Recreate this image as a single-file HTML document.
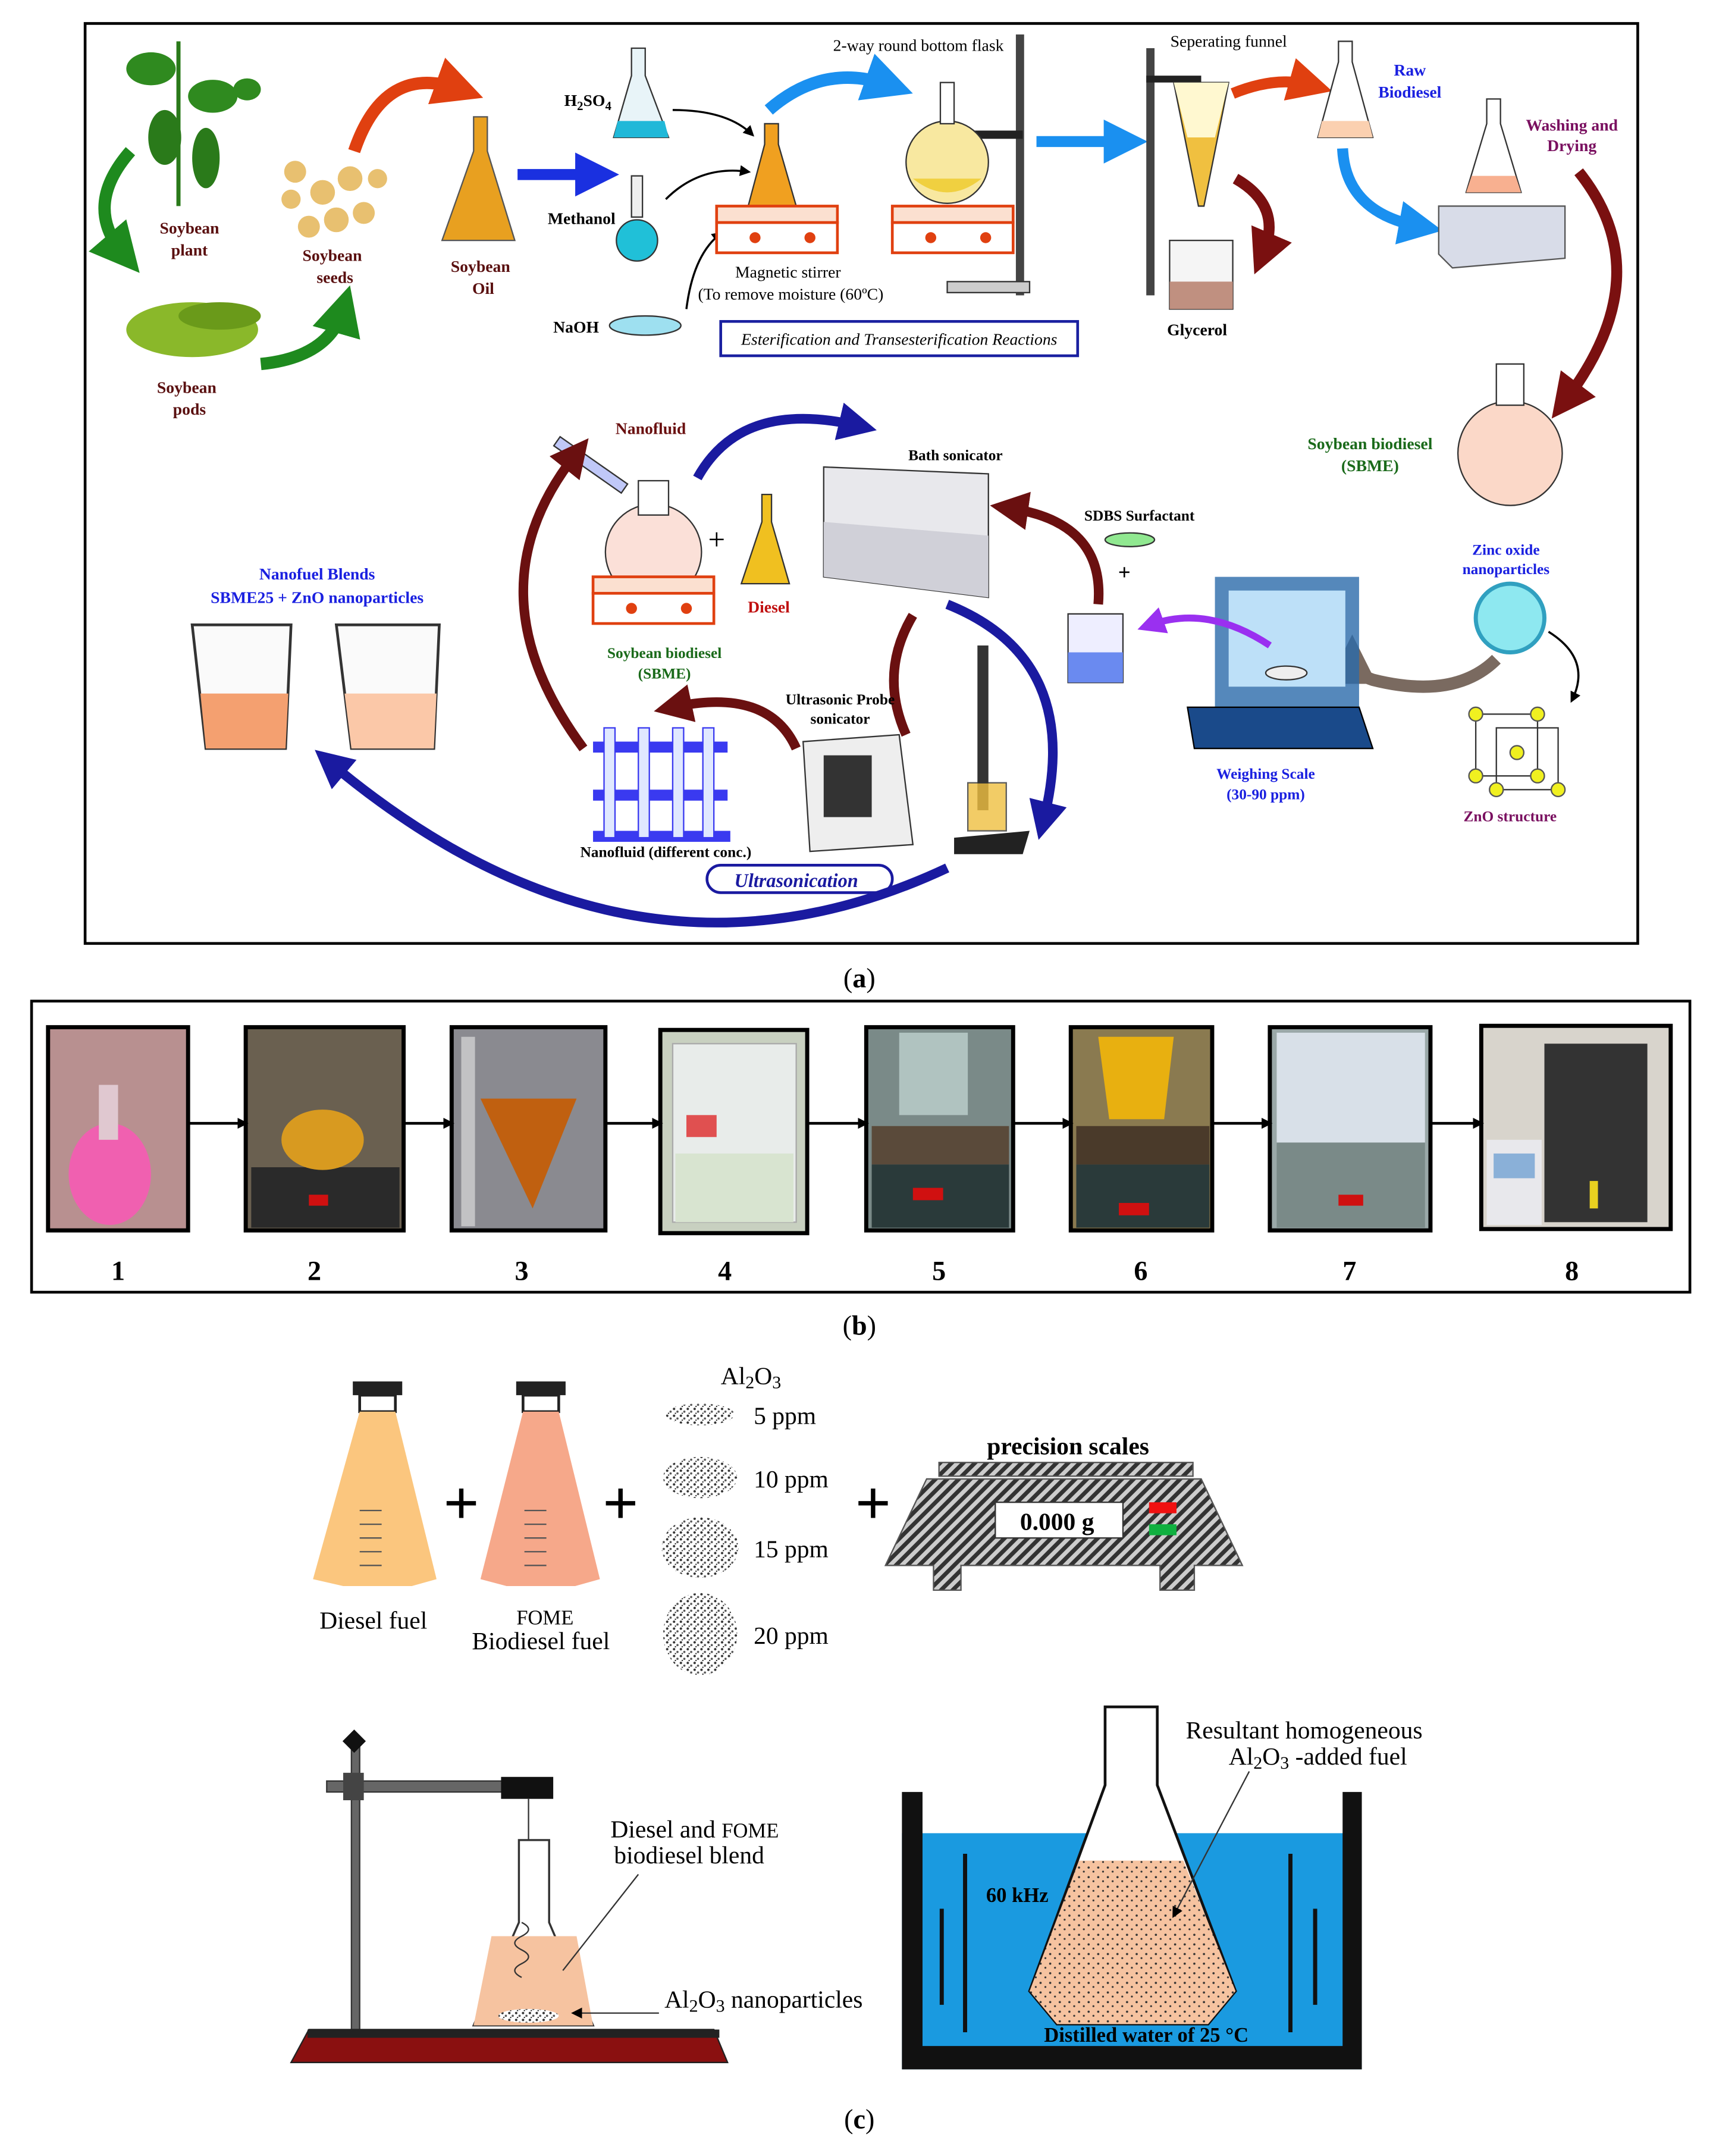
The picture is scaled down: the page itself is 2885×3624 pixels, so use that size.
<!DOCTYPE html>
<html><head><meta charset="utf-8"><style>
html,body{margin:0;padding:0;background:#fff;}
svg{display:block;}
text{font-family:"Liberation Serif",serif;}
</style></head><body>
<svg width="2885" height="3624" viewBox="0 0 1250 1570" xmlns="http://www.w3.org/2000/svg">
<defs>
<marker id="ab" markerWidth="4" markerHeight="4" refX="2" refY="2" orient="auto"><path d="M0,0L4,2L0,4z" fill="context-stroke"/></marker>
<marker id="ak" markerWidth="8" markerHeight="8" refX="6" refY="4" orient="auto" markerUnits="userSpaceOnUse"><path d="M0,0L8,4L0,8z" fill="#000"/></marker>
<pattern id="hatch" width="6" height="6" patternUnits="userSpaceOnUse" patternTransform="rotate(45)"><rect width="6" height="6" fill="#ccc"/><rect width="3" height="6" fill="#333"/></pattern>
<pattern id="dots" width="7" height="7" patternUnits="userSpaceOnUse"><rect width="7" height="7" fill="#f6c3a0"/><circle cx="2" cy="2" r="0.8" fill="#333"/><circle cx="5.5" cy="5" r="0.7" fill="#333"/></pattern>
<pattern id="speck" width="5" height="5" patternUnits="userSpaceOnUse"><rect width="5" height="5" fill="#fff"/><circle cx="1" cy="1" r="0.9" fill="#333"/><circle cx="3.5" cy="3" r="0.8" fill="#555"/><circle cx="2" cy="4.2" r="0.5" fill="#222"/></pattern>
</defs>
<rect width="1250" height="1570" fill="#fff"/>

<!-- PANEL A -->
<rect x="62" y="17" width="1131" height="670" fill="none" stroke="#000" stroke-width="2"/>
<g font-weight="bold" font-size="12">
<path d="M130,30 L130,150" stroke="#2a7a1a" stroke-width="3"/>
<ellipse cx="110" cy="50" rx="18" ry="12" fill="#2f8a1f"/><ellipse cx="155" cy="70" rx="18" ry="12" fill="#2f8a1f"/><ellipse cx="120" cy="100" rx="12" ry="20" fill="#2a7a1a"/><ellipse cx="150" cy="115" rx="10" ry="22" fill="#2a7a1a"/><ellipse cx="180" cy="65" rx="10" ry="8" fill="#2f8a1f"/>
<text x="138" y="170" fill="#5a1010" text-anchor="middle">Soybean</text><text x="138" y="186" fill="#5a1010" text-anchor="middle">plant</text>
<path d="M95,110 Q60,150 90,185" stroke="#1e8a1e" stroke-width="9" fill="none" marker-end="url(#ab)"/>
<ellipse cx="140" cy="240" rx="48" ry="20" fill="#8ab82a"/><ellipse cx="160" cy="230" rx="30" ry="10" fill="#6a9a1a"/>
<text x="136" y="286" fill="#5a1010" text-anchor="middle">Soybean</text><text x="138" y="302" fill="#5a1010" text-anchor="middle">pods</text>
<path d="M190,265 Q240,260 250,225" stroke="#1e8a1e" stroke-width="9" fill="none" marker-end="url(#ab)"/>
<g fill="#e8c070"><circle cx="215" cy="125" r="8"/><circle cx="235" cy="140" r="9"/><circle cx="255" cy="130" r="9"/><circle cx="245" cy="160" r="9"/><circle cx="265" cy="155" r="8"/><circle cx="225" cy="165" r="8"/><circle cx="212" cy="145" r="7"/><circle cx="275" cy="130" r="7"/></g>
<text x="242" y="190" fill="#5a1010" text-anchor="middle">Soybean</text><text x="244" y="206" fill="#5a1010" text-anchor="middle">seeds</text>
<path d="M258,110 Q280,45 335,65" stroke="#e04010" stroke-width="9" fill="none" marker-end="url(#ab)"/>
<path d="M345,85 L345,110 L322,175 L375,175 L355,110 L355,85z" fill="#e8a020" stroke="#555"/>
<text x="350" y="198" fill="#5a1010" text-anchor="middle">Soybean</text><text x="352" y="214" fill="#5a1010" text-anchor="middle">Oil</text>
<path d="M377,127 L435,127" stroke="#1a30e0" stroke-width="8" marker-end="url(#ab)"/>
<path d="M460,35 L460,55 L447,100 L487,100 L470,55 L470,35z" fill="#e8f4f8" stroke="#333"/><path d="M450,88 L484,88 L487,100 L447,100z" fill="#20b8d8"/>
<text x="411" y="77" fill="#000">H<tspan font-size="9" dy="3">2</tspan><tspan dy="-3">SO</tspan><tspan font-size="9" dy="3">4</tspan></text>
<path d="M490,80 Q530,80 548,98" stroke="#000" stroke-width="1.5" fill="none" marker-end="url(#ak)"/>
<rect x="460" y="128" width="8" height="30" fill="#eee" stroke="#333"/><circle cx="464" cy="175" r="15" fill="#20c0d8" stroke="#333"/>
<text x="399" y="163" fill="#000">Methanol</text>
<path d="M485,145 Q510,120 545,125" stroke="#000" stroke-width="1.5" fill="none" marker-end="url(#ak)"/>
<ellipse cx="470" cy="237" rx="26" ry="7" fill="#9ee0f0" stroke="#333"/>
<text x="403" y="242" fill="#000">NaOH</text>
<path d="M500,225 Q505,185 525,170" stroke="#000" stroke-width="1.5" fill="none" marker-end="url(#ak)"/>
<path d="M557,90 L557,105 L545,150 L580,150 L567,105 L567,90z" fill="#f0a020" stroke="#333"/>
<rect x="522" y="150" width="88" height="12" fill="#fbe0d0" stroke="#e04010" stroke-width="2"/><rect x="522" y="162" width="88" height="22" fill="#fff" stroke="#e04010" stroke-width="2"/>
<circle cx="550" cy="173" r="4" fill="#e04010"/><circle cx="590" cy="173" r="4" fill="#e04010"/>
<text x="574" y="202" fill="#000" text-anchor="middle" font-weight="normal">Magnetic stirrer</text>
<text x="576" y="218" fill="#000" text-anchor="middle" font-weight="normal">(To remove moisture (60ºC)</text>
<rect x="525" y="234" width="260" height="25" fill="#fff" stroke="#1a20a0" stroke-width="2"/>
<text x="655" y="251" fill="#000" text-anchor="middle" font-style="italic" font-weight="normal">Esterification and Transesterification Reactions</text>
<path d="M560,80 Q600,45 648,62" stroke="#1a90f0" stroke-width="9" fill="none" marker-end="url(#ab)"/>
<text x="669" y="37" fill="#000" text-anchor="middle" font-weight="normal">2-way round bottom flask</text>
<rect x="740" y="25" width="6" height="190" fill="#444"/><rect x="700" y="95" width="45" height="6" fill="#222"/>
<circle cx="690" cy="118" r="30" fill="#f8e8a0" stroke="#333"/><path d="M665,130 Q690,150 715,130" fill="#f0d040"/>
<rect x="685" y="60" width="10" height="30" fill="#fff" stroke="#333"/>
<rect x="650" y="150" width="88" height="12" fill="#fbe0d0" stroke="#e04010" stroke-width="2"/><rect x="650" y="162" width="88" height="22" fill="#fff" stroke="#e04010" stroke-width="2"/>
<circle cx="678" cy="173" r="4" fill="#e04010"/><circle cx="718" cy="173" r="4" fill="#e04010"/>
<rect x="690" y="205" width="60" height="8" fill="#ccc" stroke="#333"/>
<path d="M755,103 L820,103" stroke="#1a90f0" stroke-width="8" marker-end="url(#ab)"/>
<text x="895" y="34" fill="#000" text-anchor="middle" font-weight="normal">Seperating funnel</text>
<rect x="835" y="35" width="6" height="180" fill="#444"/><rect x="835" y="55" width="40" height="5" fill="#222"/>
<path d="M855,60 L895,60 L877,150 L873,150z" fill="#f0c040" stroke="#333"/><path d="M855,60 L895,60 L885,100 L865,100z" fill="#fff8d0"/>
<rect x="852" y="175" width="46" height="50" fill="#f5f5f5" stroke="#333"/><rect x="852" y="205" width="46" height="20" fill="#c09080"/>
<text x="872" y="244" fill="#000" text-anchor="middle">Glycerol</text>
<path d="M898,68 Q930,55 955,62" stroke="#e04010" stroke-width="8" fill="none" marker-end="url(#ab)"/>
<path d="M900,130 Q935,150 920,185" stroke="#7a1010" stroke-width="8" fill="none" marker-end="url(#ab)"/>
<path d="M975,30 L975,45 L960,100 L1000,100 L985,45 L985,30z" fill="#fff" stroke="#333"/><path d="M963,88 L997,88 L1000,100 L960,100z" fill="#fbd0b0"/>
<text x="1027" y="55" fill="#1a20e0" text-anchor="middle">Raw</text><text x="1027" y="71" fill="#1a20e0" text-anchor="middle">Biodiesel</text>
<path d="M978,108 Q980,155 1035,165" stroke="#1a90f0" stroke-width="8" fill="none" marker-end="url(#ab)"/>
<path d="M1083,72 L1083,90 L1068,140 L1108,140 L1093,90 L1093,72z" fill="#fff" stroke="#333"/><path d="M1072,128 L1104,128 L1108,140 L1068,140z" fill="#f8b090"/>
<path d="M1048,150 L1140,150 L1140,188 L1058,195 L1048,185z" fill="#d8dce8" stroke="#555"/>
<text x="1145" y="95" fill="#7a1060" text-anchor="middle">Washing and</text><text x="1145" y="110" fill="#7a1060" text-anchor="middle">Drying</text>
<path d="M1150,125 Q1210,200 1140,292" stroke="#7a1010" stroke-width="8" fill="none" marker-end="url(#ab)"/>
<circle cx="1100" cy="330" r="38" fill="#fbd8c8" stroke="#333"/><rect x="1090" y="265" width="20" height="30" fill="#fff" stroke="#333"/>
<text x="998" y="327" fill="#1a6a1a" text-anchor="middle">Soybean biodiesel</text><text x="998" y="343" fill="#1a6a1a" text-anchor="middle">(SBME)</text>
<text x="1097" y="404" fill="#1a20e0" text-anchor="middle" font-size="11">Zinc oxide</text><text x="1097" y="418" fill="#1a20e0" text-anchor="middle" font-size="11">nanoparticles</text>
<circle cx="1100" cy="450" r="25" fill="#8ee8f0" stroke="#30a0c0" stroke-width="3"/>
<path d="M1128,460 Q1160,480 1145,510" stroke="#000" stroke-width="1.5" fill="none" marker-end="url(#ak)"/>
<g stroke="#333" fill="none"><rect x="1075" y="520" width="45" height="45"/><rect x="1090" y="530" width="45" height="45"/></g>
<g fill="#f0f020" stroke="#555"><circle cx="1075" cy="520" r="5"/><circle cx="1120" cy="520" r="5"/><circle cx="1075" cy="565" r="5"/><circle cx="1120" cy="565" r="5"/><circle cx="1135" cy="575" r="5"/><circle cx="1090" cy="575" r="5"/><circle cx="1105" cy="548" r="5"/></g>
<text x="1100" y="598" fill="#7a1060" text-anchor="middle" font-size="11">ZnO structure</text>
<path d="M1090,480 Q1060,510 1000,495 Q985,490 985,480" stroke="#7a6a60" stroke-width="9" fill="none" marker-end="url(#ab)"/>
<path d="M885,420 L990,420 L990,520 L885,520z" fill="#2a6aaa" opacity="0.8"/><rect x="895" y="430" width="85" height="70" fill="#bde0f8"/>
<path d="M865,515 L990,515 L1000,545 L870,545z" fill="#1a4a8a" stroke="#000"/><ellipse cx="937" cy="490" rx="15" ry="5" fill="#eee" stroke="#333"/>
<text x="922" y="567" fill="#1a20e0" text-anchor="middle" font-size="11">Weighing Scale</text><text x="922" y="582" fill="#1a20e0" text-anchor="middle" font-size="11">(30-90 ppm)</text>
<path d="M925,470 Q880,440 838,455" stroke="#9a30f0" stroke-width="5" fill="none" marker-end="url(#ab)"/>
<rect x="778" y="447" width="40" height="50" fill="#eef" stroke="#333"/><rect x="778" y="475" width="40" height="22" fill="#6a8af0"/>
<text x="830" y="379" fill="#000" text-anchor="middle" font-size="11">SDBS Surfactant</text>
<ellipse cx="823" cy="393" rx="18" ry="5" fill="#90e890" stroke="#333"/>
<text x="819" y="422" fill="#000" text-anchor="middle" font-size="16">+</text>
<path d="M800,440 Q805,380 735,370" stroke="#6a1010" stroke-width="7" fill="none" marker-end="url(#ab)"/>
<text x="696" y="335" fill="#000" text-anchor="middle" font-size="11">Bath sonicator</text>
<path d="M600,340 L720,345 L720,435 L600,420z" fill="#e8e8ec" stroke="#333"/><path d="M600,380 L720,390 L720,435 L600,420z" fill="#d0d0d8"/>
<path d="M508,348 Q540,290 625,310" stroke="#1a1aa0" stroke-width="7" fill="none" marker-end="url(#ab)"/>
<text x="474" y="316" fill="#6a1010" text-anchor="middle">Nanofluid</text>
<rect x="408" y="318" width="60" height="8" transform="rotate(35 408 318)" fill="#c0c8f8" stroke="#333"/>
<circle cx="476" cy="402" r="35" fill="#fbe0d8" stroke="#333"/><rect x="465" y="350" width="22" height="25" fill="#fff" stroke="#333"/>
<rect x="432" y="420" width="88" height="12" fill="#fbe0d0" stroke="#e04010" stroke-width="2"/><rect x="432" y="432" width="88" height="22" fill="#fff" stroke="#e04010" stroke-width="2"/>
<circle cx="460" cy="443" r="4" fill="#e04010"/><circle cx="500" cy="443" r="4" fill="#e04010"/>
<text x="522" y="400" fill="#000" text-anchor="middle" font-size="22" font-weight="normal">+</text>
<path d="M555,360 L555,380 L540,425 L575,425 L562,380 L562,360z" fill="#f0c020" stroke="#333"/>
<text x="560" y="446" fill="#c01010" text-anchor="middle">Diesel</text>
<text x="484" y="479" fill="#1a6a1a" text-anchor="middle" font-size="11">Soybean biodiesel</text><text x="484" y="494" fill="#1a6a1a" text-anchor="middle" font-size="11">(SBME)</text>
<path d="M690,440 Q790,480 760,598" stroke="#1a1aa0" stroke-width="7" fill="none" marker-end="url(#ab)"/>
<path d="M665,448 Q640,490 660,535" stroke="#6a1010" stroke-width="7" fill="none"/>
<text x="612" y="513" fill="#000" text-anchor="middle" font-size="11">Ultrasonic Probe</text><text x="612" y="527" fill="#000" text-anchor="middle" font-size="11">sonicator</text>
<path d="M585,540 L655,535 L665,615 L590,620z" fill="#eee" stroke="#333"/><rect x="600" y="550" width="35" height="45" fill="#333"/>
<rect x="712" y="470" width="8" height="120" fill="#333"/><rect x="705" y="570" width="28" height="35" fill="#f0c040" stroke="#333" opacity="0.8"/>
<path d="M695,610 L750,605 L745,622 L695,622z" fill="#222"/>
<path d="M580,545 Q560,500 490,515" stroke="#6a1010" stroke-width="7" fill="none" marker-end="url(#ab)"/>
<g fill="#3a3af0"><rect x="432" y="540" width="98" height="8"/><rect x="432" y="575" width="98" height="8"/><rect x="432" y="605" width="100" height="8"/>
<rect x="440" y="530" width="8" height="80" fill="#e0e8ff" stroke="#3a3af0"/><rect x="465" y="530" width="8" height="80" fill="#e0e8ff" stroke="#3a3af0"/><rect x="490" y="530" width="8" height="80" fill="#e0e8ff" stroke="#3a3af0"/><rect x="512" y="530" width="8" height="80" fill="#e0e8ff" stroke="#3a3af0"/></g>
<text x="485" y="624" fill="#000" text-anchor="middle" font-size="11">Nanofluid (different conc.)</text>
<rect x="515" y="630" width="135" height="20" rx="10" fill="#fff" stroke="#1a1aa0" stroke-width="2"/>
<text x="580" y="646" fill="#1a1aa0" text-anchor="middle" font-style="italic" font-size="14">Ultrasonication</text>
<path d="M425,545 Q340,430 420,330" stroke="#6a1010" stroke-width="7" fill="none" marker-end="url(#ab)"/>
<path d="M690,632 Q460,740 240,555" stroke="#1a1aa0" stroke-width="7" fill="none" marker-end="url(#ab)"/>
<text x="231" y="422" fill="#1a20e0" text-anchor="middle">Nanofuel Blends</text><text x="231" y="439" fill="#1a20e0" text-anchor="middle">SBME25 + ZnO nanoparticles</text>
<path d="M140,455 L212,455 L208,545 L150,545z" fill="#fafafa" stroke="#333" stroke-width="2"/><path d="M146,505 L210,505 L208,545 L150,545z" fill="#f4a070"/>
<path d="M245,455 L320,455 L316,545 L256,545z" fill="#fafafa" stroke="#333" stroke-width="2"/><path d="M251,505 L318,505 L316,545 L256,545z" fill="#fbc8a8"/>
</g>
<text x="626" y="719" font-size="20" text-anchor="middle">(<tspan font-weight="bold">a</tspan>)</text>

<!-- PANEL B -->
<rect x="23" y="729" width="1208" height="212" fill="none" stroke="#000" stroke-width="2"/>
<g stroke="#000" stroke-width="3">
<rect x="35" y="748" width="102" height="148" fill="#b89090"/><rect x="179" y="748" width="115" height="148" fill="#6a6050"/><rect x="329" y="748" width="112" height="148" fill="#8a8a90"/><rect x="481" y="750" width="107" height="148" fill="#c8d0c0"/><rect x="631" y="748" width="107" height="148" fill="#7a8a88"/><rect x="780" y="748" width="103" height="148" fill="#8a7a50"/><rect x="925" y="748" width="117" height="148" fill="#9aa8a8"/><rect x="1079" y="747" width="138" height="148" fill="#d8d4cc"/>
</g>
<ellipse cx="80" cy="855" rx="30" ry="37" fill="#f060b0"/><rect x="72" y="790" width="14" height="40" fill="#e0c8d0"/>
<rect x="183" y="850" width="108" height="44" fill="#2a2a2a"/><ellipse cx="235" cy="830" rx="30" ry="22" fill="#d89a20"/><rect x="225" y="870" width="14" height="8" fill="#d01010"/>
<path d="M350,800 L420,800 L388,880z" fill="#c06010"/><rect x="336" y="755" width="10" height="138" fill="#e8e8e8" opacity="0.6"/>
<rect x="490" y="760" width="90" height="130" fill="#e8ecea" stroke="#aaa"/><rect x="492" y="840" width="86" height="50" fill="#d8e4d0"/><rect x="500" y="812" width="22" height="16" fill="#e05050"/>
<rect x="635" y="820" width="100" height="28" fill="#5a4a3a"/><rect x="635" y="848" width="100" height="46" fill="#2a3a3a"/><rect x="665" y="865" width="22" height="9" fill="#d01010"/><rect x="655" y="752" width="50" height="60" fill="#c8dcd8" opacity="0.7"/>
<rect x="784" y="820" width="97" height="28" fill="#4a3a2a"/><rect x="784" y="848" width="97" height="46" fill="#2a3a3a"/><rect x="815" y="876" width="22" height="9" fill="#d01010"/><path d="M800,755 L855,755 L848,815 L808,815z" fill="#e8b010"/>
<rect x="930" y="752" width="108" height="80" fill="#d8e0e8"/><rect x="930" y="832" width="108" height="62" fill="#7a8a88"/><rect x="975" y="870" width="18" height="8" fill="#d01010"/>
<rect x="1125" y="760" width="75" height="130" fill="#333"/><rect x="1083" y="830" width="40" height="62" fill="#e8e8ec"/><rect x="1088" y="840" width="30" height="18" fill="#8ab0d8"/><rect x="1158" y="860" width="6" height="20" fill="#e8d020"/>
<g stroke="#000" stroke-width="2" marker-end="url(#ak)"><line x1="137" y1="818" x2="179" y2="818"/><line x1="294" y1="818" x2="329" y2="818"/><line x1="441" y1="818" x2="481" y2="818"/><line x1="588" y1="818" x2="631" y2="818"/><line x1="738" y1="818" x2="780" y2="818"/><line x1="883" y1="818" x2="925" y2="818"/><line x1="1042" y1="818" x2="1079" y2="818"/></g>
<g font-size="20" font-weight="bold" text-anchor="middle"><text x="86" y="932">1</text><text x="229" y="932">2</text><text x="380" y="932">3</text><text x="528" y="932">4</text><text x="684" y="932">5</text><text x="831" y="932">6</text><text x="983" y="932">7</text><text x="1145" y="932">8</text></g>
<text x="626" y="972" font-size="20" text-anchor="middle">(<tspan font-weight="bold">b</tspan>)</text>

<!-- PANEL C -->
<g font-size="18">
<rect x="257" y="1006" width="36" height="10" fill="#222"/><rect x="262" y="1016" width="26" height="12" fill="#fff" stroke="#222" stroke-width="2"/>
<path d="M262,1028 L288,1028 L318,1150 L300,1155 L250,1155 L228,1150z" fill="#fbc67e"/>
<g stroke="#555"><line x1="262" y1="1100" x2="278" y2="1100"/><line x1="262" y1="1110" x2="278" y2="1110"/><line x1="262" y1="1120" x2="278" y2="1120"/><line x1="262" y1="1130" x2="278" y2="1130"/><line x1="262" y1="1140" x2="278" y2="1140"/></g>
<text x="272" y="1186" text-anchor="middle">Diesel fuel</text>
<text x="336" y="1110" font-size="46" font-weight="bold" text-anchor="middle">+</text>
<rect x="376" y="1006" width="36" height="10" fill="#222"/><rect x="381" y="1016" width="26" height="12" fill="#fff" stroke="#222" stroke-width="2"/>
<path d="M381,1028 L407,1028 L437,1150 L419,1155 L369,1155 L350,1150z" fill="#f6a88a"/>
<g stroke="#555"><line x1="382" y1="1100" x2="398" y2="1100"/><line x1="382" y1="1110" x2="398" y2="1110"/><line x1="382" y1="1120" x2="398" y2="1120"/><line x1="382" y1="1130" x2="398" y2="1130"/><line x1="382" y1="1140" x2="398" y2="1140"/></g>
<text x="397" y="1183" font-size="15" text-anchor="middle">FOME</text><text x="394" y="1201" text-anchor="middle">Biodiesel fuel</text>
<text x="452" y="1110" font-size="46" font-weight="bold" text-anchor="middle">+</text>
<text x="547" y="1008" text-anchor="middle">Al<tspan font-size="13" dy="3">2</tspan><tspan dy="-3">O</tspan><tspan font-size="13" dy="3">3</tspan></text>
<g fill="url(#speck)"><ellipse cx="510" cy="1030" rx="25" ry="8"/><ellipse cx="510" cy="1076" rx="27" ry="15"/><ellipse cx="510" cy="1127" rx="28" ry="22"/><ellipse cx="510" cy="1190" rx="27" ry="30"/></g>
<text x="549" y="1037">5 ppm</text><text x="549" y="1083">10 ppm</text><text x="549" y="1134">15 ppm</text><text x="549" y="1197">20 ppm</text>
<text x="636" y="1110" font-size="46" font-weight="bold" text-anchor="middle">+</text>
<text x="778" y="1059" text-anchor="middle" font-weight="bold">precision scales</text>
<rect x="684" y="1065" width="185" height="10" fill="url(#hatch)" stroke="#555"/>
<path d="M675,1077 L875,1077 L905,1140 L870,1140 L870,1158 L845,1158 L845,1140 L700,1140 L700,1158 L680,1158 L680,1140 L645,1140z" fill="url(#hatch)" stroke="#555"/>
<rect x="725" y="1094" width="93" height="26" fill="#fff" stroke="#333"/><text x="770" y="1114" text-anchor="middle" font-weight="bold">0.000 g</text>
<rect x="837" y="1094" width="20" height="8" fill="#f01010"/><rect x="837" y="1110" width="20" height="8" fill="#10b040"/>
<rect x="256" y="1272" width="6" height="210" fill="#666" stroke="#333"/><rect x="252" y="1262" width="12" height="12" fill="#111" transform="rotate(45 258 1268)"/>
<rect x="238" y="1297" width="130" height="8" fill="#666" stroke="#333"/><rect x="250" y="1291" width="15" height="20" fill="#444"/>
<rect x="365" y="1294" width="38" height="16" fill="#111"/><line x1="385" y1="1310" x2="385" y2="1430" stroke="#333"/>
<path d="M378,1340 L400,1340 L400,1400 L432,1475 L345,1475 L378,1400z" fill="#fff" stroke="#333" stroke-width="1.5"/>
<path d="M358,1410 L420,1410 L432,1475 L345,1475z" fill="#f6c3a0"/>
<ellipse cx="385" cy="1468" rx="22" ry="5" fill="url(#speck)"/>
<path d="M380,1400 q10,5 0,10 q-10,5 0,10 q10,5 0,10 q-10,5 0,10" stroke="#333" fill="none"/>
<path d="M225,1478 L520,1478 L530,1502 L212,1502z" fill="#8a1010" stroke="#222"/>
<rect x="224" y="1478" width="300" height="6" fill="#222"/>
<text x="506" y="1338" text-anchor="middle">Diesel and <tspan font-size="15">FOME</tspan></text><text x="502" y="1357" text-anchor="middle">biodiesel blend</text>
<line x1="465" y1="1365" x2="410" y2="1435" stroke="#333"/>
<text x="484" y="1462">Al<tspan font-size="13" dy="3">2</tspan><tspan dy="-3">O</tspan><tspan font-size="13" dy="3">3</tspan><tspan dy="-3"> nanoparticles</tspan></text>
<line x1="480" y1="1466" x2="418" y2="1466" stroke="#333" marker-end="url(#ak)"/>
<rect x="657" y="1335" width="335" height="172" fill="#1a9ae0"/>
<path d="M657,1305 L672,1305 L672,1490 L978,1490 L978,1305 L992,1305 L992,1507 L657,1507z" fill="#111"/>
<g stroke="#111" stroke-width="3"><line x1="686" y1="1390" x2="686" y2="1460"/><line x1="703" y1="1350" x2="703" y2="1480"/><line x1="940" y1="1350" x2="940" y2="1480"/><line x1="958" y1="1390" x2="958" y2="1460"/></g>
<path d="M805,1243 L843,1243 L843,1300 L900,1450 L880,1474 L770,1474 L750,1450 L805,1300z" fill="#fff" stroke="#111" stroke-width="2"/>
<path d="M786,1355 L862,1355 L900,1450 L880,1474 L770,1474 L750,1450z" fill="url(#dots)"/>
<text x="741" y="1385" font-weight="bold" font-size="15" text-anchor="middle">60 kHz</text>
<text x="835" y="1487" font-weight="bold" font-size="15" text-anchor="middle">Distilled water of 25 °C</text>
<text x="950" y="1266" text-anchor="middle">Resultant homogeneous</text>
<text x="960" y="1285" text-anchor="middle">Al<tspan font-size="13" dy="3">2</tspan><tspan dy="-3">O</tspan><tspan font-size="13" dy="3">3</tspan><tspan dy="-3"> -added fuel</tspan></text>
<line x1="910" y1="1290" x2="855" y2="1395" stroke="#333" marker-end="url(#ak)"/>
</g>
<text x="626" y="1550" font-size="20" text-anchor="middle">(<tspan font-weight="bold">c</tspan>)</text>
</svg>
</body></html>
